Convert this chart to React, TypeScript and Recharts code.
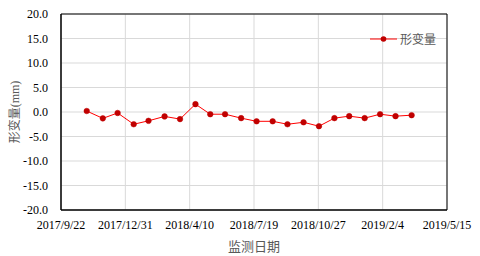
import React from 'react';
import { LineChart, Line, XAxis, YAxis, CartesianGrid, ReferenceArea } from 'recharts';

const dates = [
  '2017/11/1', '2017/11/26', '2017/12/19', '2018/1/13', '2018/2/5', '2018/3/2',
  '2018/3/26', '2018/4/19', '2018/5/12', '2018/6/4', '2018/6/29', '2018/7/23',
  '2018/8/17', '2018/9/9', '2018/10/4', '2018/10/28', '2018/11/21', '2018/12/14',
  '2019/1/7', '2019/1/31', '2019/2/24', '2019/3/21',
];
const deformation = [
  0.2, -1.3, -0.2, -2.5, -1.8, -0.9, -1.45, 1.6, -0.45, -0.45, -1.25,
  -1.9, -1.9, -2.5, -2.1, -2.9, -1.25, -0.85, -1.25, -0.45, -0.85, -0.65,
];
const xTickLabels = ['2017/9/22', '2017/12/31', '2018/4/10', '2018/7/19', '2018/10/27', '2019/2/4', '2019/5/15'];
const yTicks = [-20, -15, -10, -5, 0, 5, 10, 15, 20];
const seriesName = '形变量';
const xAxisTitle = '监测日期';
const yAxisTitle = '形变量(mm)';

const toTs = (s: string) => {
  const [y, m, d] = s.split('/').map(Number);
  return Date.UTC(y, m - 1, d);
};
const fmt = (t: number) => {
  const d = new Date(t);
  return `${d.getUTCFullYear()}/${d.getUTCMonth() + 1}/${d.getUTCDate()}`;
};

const data = dates.map((d, i) => ({ t: toTs(d), v: deformation[i] }));
const xTicks = xTickLabels.map(toTs);
const xMin = xTicks[0];
const xMax = xTicks[xTicks.length - 1];

const serif = '"Liberation Serif", "Times New Roman", "Noto Sans CJK SC", serif';
const sans = '"Noto Sans CJK SC", "Microsoft YaHei", sans-serif';

export default function App() {
  return (
    <div style={{ position: 'absolute', left: 0, top: 0, width: 480, height: 256, background: '#fff', fontFamily: serif }}>
      <LineChart width={480} height={256} data={data} margin={{ top: 14, right: 33, bottom: 0, left: 0 }} style={{ fontFamily: serif }}>
        <CartesianGrid stroke="#d9d9d9" strokeWidth={1} />
        <XAxis
          dataKey="t"
          type="number"
          scale="linear"
          domain={[xMin, xMax]}
          ticks={xTicks}
          tickFormatter={fmt}
          interval={0}
          tickLine={false}
          axisLine={{ stroke: '#000' }}
          tickMargin={4}
          height={46}
          tick={{ fontFamily: serif, fontSize: 12, fill: '#000' }}
          label={{ value: xAxisTitle, position: 'insideBottom', offset: 5, style: { fontFamily: sans, fontSize: 13, fill: '#595959' } }}
        />
        <YAxis
          type="number"
          domain={[-20, 20]}
          ticks={yTicks}
          interval={0}
          tickFormatter={(v: number) => v.toFixed(1)}
          tickLine={false}
          axisLine={{ stroke: '#000' }}
          tickMargin={7}
          width={61}
          tick={{ fontFamily: serif, fontSize: 12, fill: '#000' }}
          label={{ value: yAxisTitle, angle: -90, position: 'insideLeft', offset: 15, style: { textAnchor: 'middle', fontFamily: serif, fontSize: 12, fill: '#595959' } }}
        />
        <ReferenceArea x1={xMin} x2={xMax} y1={-20} y2={20} fill="none" stroke="#000" strokeWidth={1} />
        <Line
          type="linear"
          dataKey="v"
          name={seriesName}
          stroke="#ff0000"
          strokeWidth={1}
          dot={{ r: 2.8, fill: '#c00000', stroke: '#c00000', strokeWidth: 0.5 }}
          activeDot={false}
          isAnimationActive={false}
        />
      </LineChart>
      <div style={{ position: 'absolute', left: 370, top: 31, display: 'flex', alignItems: 'center', fontFamily: sans, fontSize: 12, lineHeight: '16px', color: '#595959' }}>
        <svg width={28} height={10} style={{ marginRight: 2 }}>
          <line x1={0} y1={5} x2={27} y2={5} stroke="#ff0000" strokeWidth={1} />
          <circle cx={13.5} cy={5} r={2.8} fill="#c00000" />
        </svg>
        <span>{seriesName}</span>
      </div>
    </div>
  );
}
